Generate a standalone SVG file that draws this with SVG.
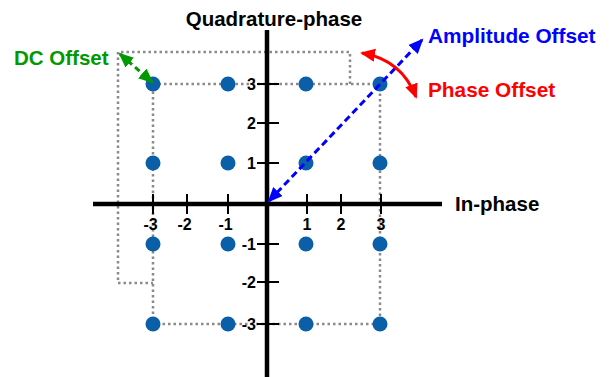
<svg xmlns="http://www.w3.org/2000/svg" width="613" height="377" viewBox="0 0 613 377">
<defs>
<style>
.lbl{font-family:"Liberation Sans",Arial,sans-serif;font-weight:bold}
.tick{font-family:"Liberation Sans",Arial,sans-serif;font-weight:bold;font-size:16px;fill:#000}
.grid{fill:none;stroke:#8a8a8a;stroke-width:2.5;stroke-dasharray:2.5 3}
.axis{stroke:#000;stroke-width:4.5;fill:none}
.tk{stroke:#000;stroke-width:2}
.dot{fill:#0a5fa8}
</style>
<marker id="ab" markerUnits="userSpaceOnUse" markerWidth="16" markerHeight="14" refX="13" refY="6.5" orient="auto-start-reverse"><path d="M0,0 L15,6.5 L0,13 z" fill="#0000ff"/></marker>
<marker id="ag" markerUnits="userSpaceOnUse" markerWidth="16" markerHeight="14" refX="13" refY="6.5" orient="auto-start-reverse"><path d="M0,0 L15,6.5 L0,13 z" fill="#009900"/></marker>
<marker id="ar" markerUnits="userSpaceOnUse" markerWidth="16" markerHeight="14" refX="13" refY="6.5" orient="auto-start-reverse"><path d="M0,0 L15,6.5 L0,13 z" fill="#ff0000"/></marker>
</defs>
<rect width="613" height="377" fill="#fff"/>
<g id="grid-lines">
<path class="grid" d="M153,84 H380 V324 H153 Z"/>
<path class="grid" d="M350,84 V52 H118 V283 H153"/>
</g>
<g id="axes">
<line class="axis" x1="93" y1="204" x2="442" y2="204"/>
<line class="axis" x1="267" y1="30" x2="267" y2="377"/>
<g class="tk">
<line x1="153" y1="194" x2="153" y2="214"/>
<line x1="187" y1="194" x2="187" y2="214"/>
<line x1="228" y1="194" x2="228" y2="214"/>
<line x1="307" y1="194" x2="307" y2="214"/>
<line x1="341" y1="194" x2="341" y2="214"/>
<line x1="381" y1="194" x2="381" y2="214"/>
<line x1="257" y1="84" x2="279" y2="84"/>
<line x1="257" y1="123" x2="279" y2="123"/>
<line x1="257" y1="163" x2="279" y2="163"/>
<line x1="257" y1="244" x2="279" y2="244"/>
<line x1="257" y1="282" x2="279" y2="282"/>
<line x1="257" y1="324" x2="279" y2="324"/>
</g>
<g class="tick" text-anchor="middle">
<text x="150.5" y="230">-3</text>
<text x="184.5" y="230">-2</text>
<text x="225.5" y="230">-1</text>
<text x="307" y="230">1</text>
<text x="341" y="230">2</text>
<text x="381" y="230">3</text>
</g>
<g class="tick" text-anchor="end">
<text x="256" y="90">3</text>
<text x="256" y="129">2</text>
<text x="256" y="169">1</text>
<text x="256" y="250">-1</text>
<text x="256" y="288">-2</text>
<text x="256" y="330">-3</text>
</g>
<text class="lbl" x="274" y="26" font-size="20.5" text-anchor="middle">Quadrature-phase</text>
<text class="lbl" x="455" y="211" font-size="20.5">In-phase</text>
</g>
<g id="constellation">
<circle class="dot" cx="153" cy="84" r="7.5"/>
<circle class="dot" cx="228" cy="84" r="7.5"/>
<circle class="dot" cx="306" cy="84" r="7.5"/>
<circle class="dot" cx="380" cy="84" r="7.5"/>
<circle class="dot" cx="153" cy="163" r="7.5"/>
<circle class="dot" cx="228" cy="163" r="7.5"/>
<circle class="dot" cx="306" cy="163" r="7.5"/>
<circle class="dot" cx="380" cy="163" r="7.5"/>
<circle class="dot" cx="153" cy="244" r="7.5"/>
<circle class="dot" cx="228" cy="244" r="7.5"/>
<circle class="dot" cx="306" cy="244" r="7.5"/>
<circle class="dot" cx="380" cy="244" r="7.5"/>
<circle class="dot" cx="153" cy="324" r="7.5"/>
<circle class="dot" cx="228" cy="324" r="7.5"/>
<circle class="dot" cx="306" cy="324" r="7.5"/>
<circle class="dot" cx="380" cy="324" r="7.5"/>
</g>
<g id="connectors">
<line x1="269" y1="201" x2="422" y2="40" stroke="#0000ff" stroke-width="3" stroke-dasharray="7 4" marker-start="url(#ab)" marker-end="url(#ab)"/>
<line x1="120" y1="54" x2="152" y2="82" stroke="#009900" stroke-width="3" stroke-dasharray="6 4" marker-start="url(#ag)" marker-end="url(#ag)"/>
<path d="M362,53 Q402,60 416,97" fill="none" stroke="#ff0000" stroke-width="3" marker-start="url(#ar)" marker-end="url(#ar)"/>
</g>
<g id="labels">
<text class="lbl" x="14" y="65" font-size="20.5" fill="#009900">DC Offset</text>
<text class="lbl" x="428" y="43" font-size="20.8" fill="#0000ff">Amplitude Offset</text>
<text class="lbl" x="428" y="97" font-size="20.8" fill="#ff0000">Phase Offset</text>
</g>
</svg>
